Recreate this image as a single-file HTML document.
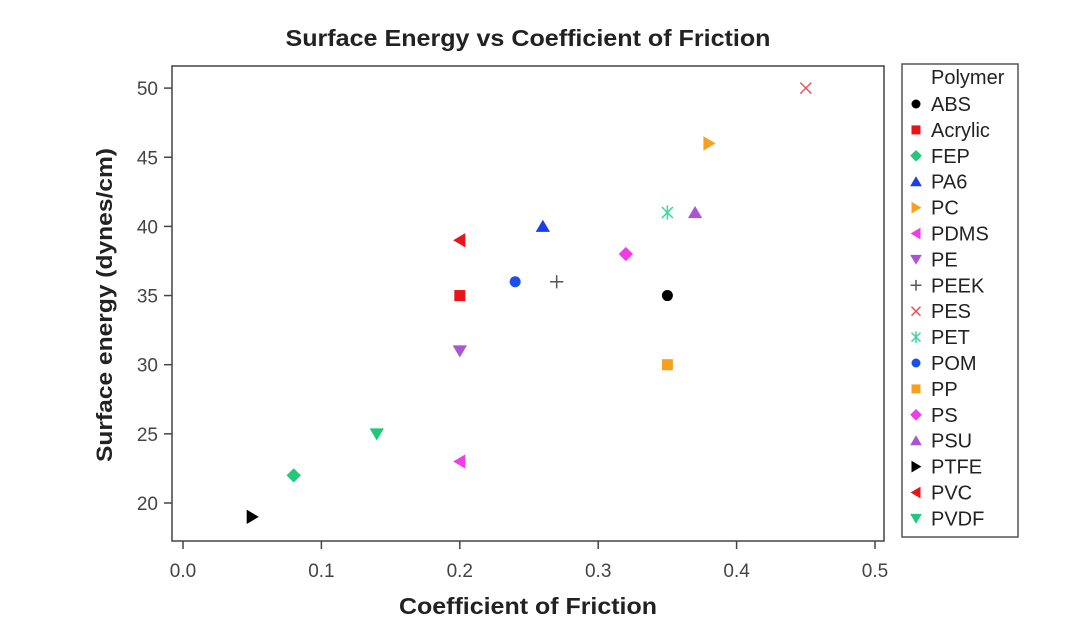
<!DOCTYPE html>
<html><head><meta charset="utf-8"><style>
body{margin:0;background:#fff;width:1080px;height:629px;overflow:hidden}
svg text{font-family:"Liberation Sans",Arial,sans-serif}
</style></head><body>
<svg id="chart" width="1080" height="629">
<text x="528" y="46" text-anchor="middle" font-size="23" font-weight="bold" fill="#222" textLength="485" lengthAdjust="spacingAndGlyphs">Surface Energy vs Coefficient of Friction</text>
<rect x="172" y="66" width="712" height="475" fill="none" stroke="#444" stroke-width="1.5"/>
<text x="528" y="614" text-anchor="middle" font-size="23" font-weight="bold" fill="#222" textLength="258" lengthAdjust="spacingAndGlyphs">Coefficient of Friction</text>
<text transform="translate(112,305) rotate(-90)" text-anchor="middle" font-size="22" font-weight="bold" fill="#222" textLength="314" lengthAdjust="spacingAndGlyphs">Surface energy (dynes/cm)</text>
<g id="axes"></g><g id="marks"></g>
<rect x="902" y="64" width="116" height="473" fill="none" stroke="#555" stroke-width="1.5"/>
<text x="931" y="84" font-size="20" fill="#222">Polymer</text>
<g id="legend"></g>
</svg>
<script>
const names=["ABS","Acrylic","FEP","PA6","PC","PDMS","PE","PEEK","PES","PET","POM","PP","PS","PSU","PTFE","PVC","PVDF"];
const frictionValues=[0.35,0.20,0.08,0.26,0.38,0.20,0.20,0.27,0.45,0.35,0.24,0.35,0.32,0.37,0.05,0.20,0.14];
const energyValues=[35,35,22,40,46,23,31,36,50,41,36,30,38,41,19,39,25];
const colors=["#000","#e8141c","#22c97a","#1a3fe8","#f7a020","#f23ce8","#a855d6","#555","#e8545c","#3fd6a0","#1a4ef0","#f7a020","#f23ce8","#a855d6","#000","#e8141c","#1fc87a"];
const shapes=["circle","square","diamond","up","right","left","down","plus","x","star","circle","square","diamond","up","right","left","down"];
const xTicks=[0,0.1,0.2,0.3,0.4,0.5];
const xTickLabels=["0.0","0.1","0.2","0.3","0.4","0.5"];
const yTicks=[20,25,30,35,40,45,50];
const NS="http://www.w3.org/2000/svg";
const sx=v=>183+v*1384, sy=v=>503-(v-20)*13.83;
function mk(tag,attrs,parent){const e=document.createElementNS(NS,tag);for(const k in attrs)e.setAttribute(k,attrs[k]);parent.appendChild(e);return e;}
const axes=document.getElementById('axes');
xTicks.forEach((t,i)=>{
 const l=mk('line',{x1:sx(t),x2:sx(t),y1:541,y2:549,stroke:'#444','stroke-width':1.5},axes);
 
 
 const tx=mk('text',{x:sx(t),y:577,'text-anchor':'middle','font-size':19,fill:'#444'},axes);tx.textContent=xTickLabels[i];
 
 
});
yTicks.forEach(t=>{
 const l=mk('line',{x1:164,x2:172,y1:sy(t),y2:sy(t),stroke:'#444','stroke-width':1.5},axes);
 
 
 const tx=mk('text',{x:158,y:sy(t)+7,'text-anchor':'end','font-size':19,fill:'#444'},axes);tx.textContent=t;
 
 
});
function marker(shape,x,y,c,s,parent){
 let e;
 if(shape==='circle')e=mk('circle',{cx:x,cy:y,r:s,fill:c},parent);
 else if(shape==='square')e=mk('rect',{x:x-s,y:y-s,width:2*s,height:2*s,fill:c},parent);
 else if(shape==='diamond')e=mk('polygon',{points:`${x},${y-s*1.3} ${x+s*1.3},${y} ${x},${y+s*1.3} ${x-s*1.3},${y}`,fill:c},parent);
 else if(shape==='up')e=mk('polygon',{points:`${x},${y-s*1.2} ${x+s*1.3},${y+s} ${x-s*1.3},${y+s}`,fill:c},parent);
 else if(shape==='down')e=mk('polygon',{points:`${x},${y+s*1.2} ${x+s*1.3},${y-s} ${x-s*1.3},${y-s}`,fill:c},parent);
 else if(shape==='right')e=mk('polygon',{points:`${x+s*1.2},${y} ${x-s},${y-s*1.3} ${x-s},${y+s*1.3}`,fill:c},parent);
 else if(shape==='left')e=mk('polygon',{points:`${x-s*1.2},${y} ${x+s},${y-s*1.3} ${x+s},${y+s*1.3}`,fill:c},parent);
 else if(shape==='plus')e=mk('path',{d:`M${x-s*1.2},${y}H${x+s*1.2}M${x},${y-s*1.2}V${y+s*1.2}`,stroke:c,'stroke-width':1.5},parent);
 else if(shape==='x')e=mk('path',{d:`M${x-s},${y-s}L${x+s},${y+s}M${x-s},${y+s}L${x+s},${y-s}`,stroke:c,'stroke-width':1.5},parent);
 else e=mk('path',{d:`M${x-s},${y-s}L${x+s},${y+s}M${x-s},${y+s}L${x+s},${y-s}M${x},${y-s*1.3}V${y+s*1.3}`,stroke:c,'stroke-width':1.5},parent);
 return e;
}
const marks=document.getElementById('marks');
names.forEach((n,i)=>{
 const e=marker(shapes[i],sx(frictionValues[i]),sy(energyValues[i]),colors[i],5.5,marks);
 
 
});
const leg=document.getElementById('legend');
names.forEach((n,i)=>{
 const y=104+i*25.9;
 const m=marker(shapes[i],916,y,colors[i],4.5,leg);
 
 
 const t=mk('text',{x:931,y:y+7,'font-size':20,fill:'#222'},leg);t.textContent=n;
 
 
});
</script>
</body></html>
